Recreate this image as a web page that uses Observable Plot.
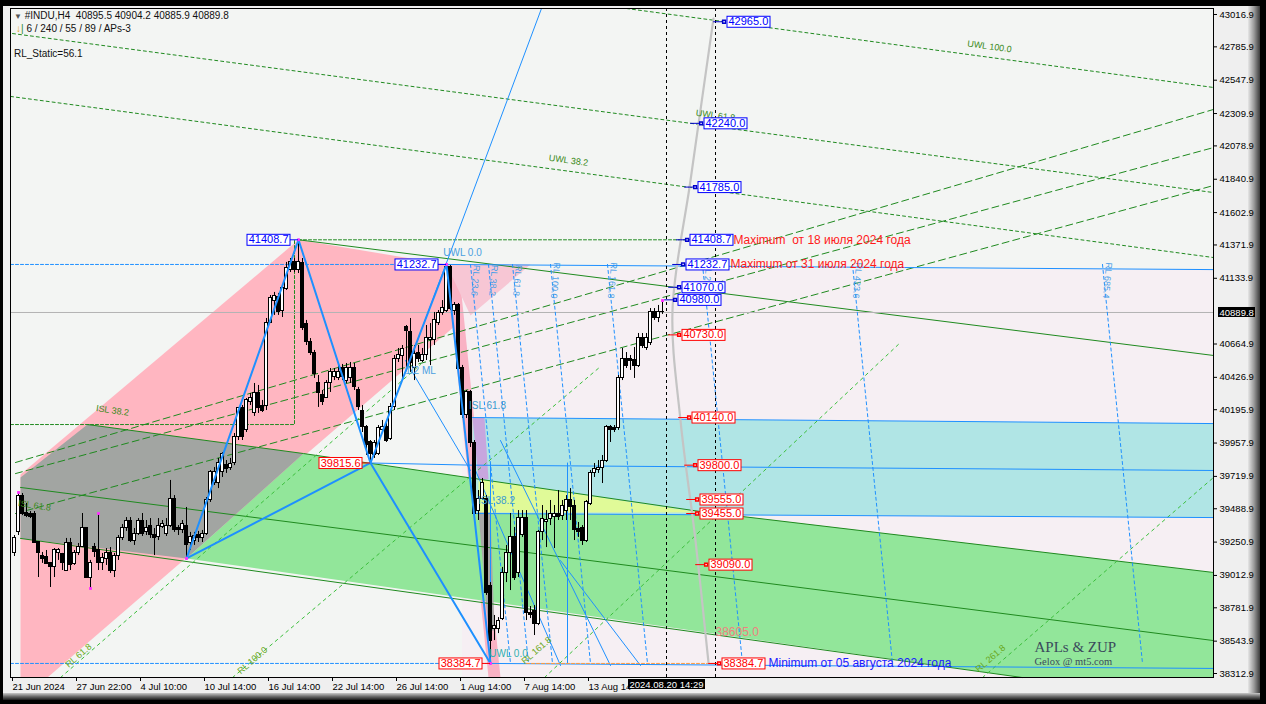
<!DOCTYPE html>
<html><head><meta charset="utf-8">
<script src="https://cdn.jsdelivr.net/npm/d3@7"></script>
<script src="https://cdn.jsdelivr.net/npm/@observablehq/plot@0.6"></script>
<style>
html,body{margin:0;padding:0;background:#000;}
#wrap{position:relative;width:1266px;height:704px;overflow:hidden;background:#000;}
#win{position:absolute;left:3px;top:6px;width:1247px;height:688px;background:#efefef;}
#bevR{position:absolute;left:1248px;top:6px;width:12px;height:692px;background:linear-gradient(to right,#e6e6e6,#9a9a9a,#3a3a3a);}
#bevB{position:absolute;left:3px;top:693px;width:1257px;height:7px;background:linear-gradient(to bottom,#c8c8c8,#6a6a6a,#1a1a1a);}
#chart{position:absolute;left:0;top:0;}
.hdr{position:absolute;font-family:'Liberation Sans',Arial,sans-serif;font-size:10px;color:#111;white-space:pre;}
</style></head>
<body><div id="wrap"><div id="win"></div><div id="bevR"></div><div id="bevB"></div><div id="chart"></div>
<div class="hdr" style="left:14px;top:10px;"><span style="color:#555;font-size:8px">▼</span> #INDU,H4  40895.5 40904.2 40885.9 40889.8</div>
<div class="hdr" style="left:16px;top:23px;"><span style="color:#e0a020">↓</span><span style="color:#2a8a2a">|</span> 6 / 240 / 55 / 89 / APs-3</div>
<div class="hdr" style="left:14px;top:48px;">RL_Static=56.1</div>
</div>
<script>
// ---------- candle data (H4 bars, index 0 = 21 Jun 2024) ----------
const open = [
39170,39320,39583,39462,39455,39455,39255,39155,39141,39099,
39070,39170,39163,39048,39241,39091,39170,39219,39348,38998,
39219,39191,39099,39127,39170,39048,39155,39277,39348,39405,
39262,39312,39405,39320,39369,39298,39284,39362,39312,39369,
39562,39348,39334,39369,39248,39262,39298,39277,39312,39548,
39676,39676,39748,39798,39783,39812,39998,40205,40048,40248,
40169,40312,40219,40219,40818,40975,40997,40904,41061,41190,
41247,41190,41240,40811,40676,40604,40383,40298,40283,40383,
40426,40419,40497,40404,40419,40497,40333,40190,40069,39962,
39876,39883,40048,40069,39990,40212,40561,40576,40783,40747,
40497,40604,40547,40583,40690,40690,40818,40883,40904,41211,
40904,40940,40497,40155,40319,39955,39476,39562,39562,38941,
38634,38634,38705,39027,39170,39284,39027,39298,39426,38748,
38762,38669,39320,39391,39419,39433,39448,39440,39476,39548,
39512,39341,39348,39262,39526,39741,39762,39783,39833,40069,
40062,40062,40419,40561,40561,40554,40511,40711,40633,40669,
40890,40854,40890];
const high = [
39298,39605,39598,39527,39469,39469,39255,39177,39191,39099,
39205,39205,39170,39277,39277,39191,39241,39455,39355,39120,
39241,39455,39170,39205,39212,39170,39298,39376,39426,39426,
39348,39419,39455,39405,39419,39348,39419,39405,39419,39691,
39583,39369,39405,39498,39320,39320,39327,39334,39569,39762,
39783,39848,39890,39833,39848,40026,40212,40226,40276,40312,
40383,40369,40262,40847,41011,41033,41026,41082,41247,41275,
41275,41408.7,41275,40833,40704,40619,40440,40333,40404,40490,
40490,40512,40519,40526,40533,40526,40355,40226,40083,39976,
39976,40083,40119,40119,40240,40583,40633,40654,40797,40847,
40654,40654,40633,40797,40811,40890,40904,40975,41232.7,41225,
40961,40954,40512,40333,40333,39976,39619,39705,39583,38962,
38727,38712,39070,39227,39455,39355,39476,39476,39476,38791,
38798,39334,39512,39476,39548,39512,39619,39548,39583,39633,
39548,39391,39369,39548,39762,39812,39833,39869,40083,40083,
40083,40440,40633,40604,40583,40640,40740,40740,40740,40918,
40918,40940,40975];
const low = [
39148,39298,39440,39426,39419,39241,38998,39099,39091,38927,
38998,39120,39048,39048,39048,39084,39155,39212,38991,38920,
39141,39048,39048,39084,39027,38998,39120,39262,39327,39248,
39227,39298,39291,39298,39277,39155,39262,39348,39291,39355,
39320,39298,39312,39134,39191,39227,39248,39248,39298,39534,
39655,39633,39712,39741,39762,39797,39976,39976,40033,40226,
40148,40169,40176,40190,40811,40869,40869,40854,41047,41175,
41175,41168,40761,40654,40583,40419,40212,40226,40283,40319,
40404,40404,40404,40383,40383,40333,40190,40033,39869,39815.6,
39848,39869,40033,39962,39976,40190,40533,40404,40476,40462,
40404,40533,40533,40547,40511,40654,40797,40869,40890,40904,
40869,40476,40133,40133,39926,39440,39405,39548,38870,38384.7,
38548,38598,38691,38962,38905,38977,38998,39284,38691,38705,
38584,38655,39262,39212,39369,39205,39405,39405,39405,39405,
39262,39284,39227,39248,39512,39712,39741,39669,39819,39962,
40033,40048,40404,40490,40476,40419,40497,40633,40619,40654,
40833,40818,40876];
const close = [
39277,39583,39455,39440,39433,39248,39170,39127,39091,39070,
39191,39191,39099,39241,39084,39170,39219,39348,38998,39105,
39177,39099,39134,39170,39048,39155,39277,39348,39405,39262,
39312,39405,39312,39348,39298,39277,39369,39383,39369,39562,
39334,39334,39383,39227,39284,39291,39277,39312,39548,39748,
39748,39819,39883,39776,39805,39998,40205,39998,40262,40276,
40312,40205,40190,40818,40990,41004,40890,41068,41204,41247,
41190,41247,40776,40676,40604,40454,40312,40248,40383,40462,
40462,40462,40426,40497,40497,40355,40212,40069,39941,39883,
39955,40062,40069,39976,40212,40561,40583,40626,40761,40526,
40597,40561,40583,40711,40711,40833,40883,40925,41218,40918,
40940,40490,40155,40319,39955,39455,39562,39676,38884,38548,
38655,38691,39027,39170,39284,38998,39426,39426,38748,38734,
38669,39320,39419,39412,39455,39455,39433,39512,39548,39498,
39334,39320,39262,39534,39741,39776,39783,39833,40069,40048,
40048,40419,40561,40511,40547,40511,40711,40654,40711,40890,
40854,40890,40889.8];
const lastPrice = 40889.8;

// ---------- axis ticks ----------
const yTicks = [43016.9,42785.9,42547.9,42309.9,42078.9,41840.9,41602.9,41371.9,41133.9,40664.9,40426.9,40195.9,39957.9,39719.9,39488.9,39250.9,39012.9,38781.9,38543.9,38312.9];
const xTicks = [-1,15,31,47,63,79,95,111,127,143];
const xLabels = ["21 Jun 2024","27 Jun 22:00","4 Jul 10:00","10 Jul 14:00","16 Jul 14:00","22 Jul 14:00","26 Jul 14:00","1 Aug 14:00","7 Aug 14:00","13 Aug 14"];
const cursorBar = 163, cursorLabel = "2024.08.20 14:29";

// ---------- wave pivots (bar, price) ----------
const zigzag = [[43,39134],[71,41408.7],[89,39815.6],[108,41232.7],[119,38384.7]];
const pivotMarks = [[1,39605],[19,38920],[21,39455],[43,39134],[71,41408.7],[108,41232.7],[119,38384.7],[162,40975]];

// ---------- zones (bar, price) ----------
const pinkChannel = [[1.5,39733],[71,41408.7],[108,41232.7],[110.25,40797],[8.25,38284],[1.5,38284]];
const grayBand = [[1.5,39712],[18.25,40090],[72.25,39883],[43,39134],[1.5,39277]];
const greenBand = [[72.25,39883],[171.5,39469],[299.75,39034],[299.75,38284],[252,38284],[43,39134]];
const cyanBand = [[114.5,40140],[299.75,40097],[299.75,39426],[114.5,39455]];
const yellowBand = [[116,39701],[171.5,39462],[116,39462]];
const pinkDrop = [[108,41232.7],[111,41232.7],[121.5,38284],[118.5,38284]];
const pinkFan = [[108,41232.7],[129,41232.7],[114,40868]];
const violetPatch = [[114.5,40140],[117.5,40140],[118.5,39700],[116,39700]];
const grayPatch = [[116,39462],[119,39462],[120,38620],[118.5,38620]];
const tintZone = [{x1:112,x2:299.75,y1:38284,y2:41196}];

// ---------- lines ----------
const greenSolid = [
  [[71,41408.7],[299.75,40583]],
  [[18.25,40090],[72.25,39883],[171.5,39469],[299.75,39034]],
  [[1.5,39641],[299.75,38548]],
  [[1.5,39277],[252,38284]]];
const uwlLines = [
  [[153,43059.7],[299.75,42496]],
  [[-0.5,42881],[299.75,41746]],
  [[-1,42432],[299.75,41282]]];
const fanLines = [
  [[0.25,39819],[299.75,42339]],
  [[0.25,39740],[299.75,42067]],
  [[0.25,39455],[299.75,41796]]];
const rlChannel = [
  [[11.5,38284],[101.5,40518]],
  [[54.5,38284],[146.5,40504]],
  [[132.5,38284],[221.5,40676]],
  [[242,38284],[299.75,39712]]];
const islBox = [[-1,40090],[70,40090],[70,41408.7]];
const topDash = [[71,41408.7],[169,41408.7]];
const acLine = [[43,39134],[89,39815.6]];
const ceLine = [[89,39815.6],[119,38384.7]];
const mlLine = [[97.75,40461],[131.75,43059.7]];
const blueLevels = [
  [[108,41232.7],[299.75,41196]],
  [[114.5,40140],[299.75,40097]],
  [[89,39815.6],[114.5,39800],[299.75,39762]],
  [[114.5,39455],[299.75,39426]],
  [[119,38384.7],[299.75,38349]]];
const blueDashed = [[[-1,41232.7],[108,41232.7]],[[-1,38384.7],[119,38384.7]]];
const blueVert = [[[119,39815.6],[119,38384.7]],[[138.25,39815.6],[138.25,38384.7]]];
const blueThin = [
  [[97.75,40547],[114,39762]],
  [[115.25,39762],[136.5,38370]],
  [[121.5,39976],[149,38370]],
  [[136.5,39119],[156.5,38370]]];
const rlTimeTop = [114,118.5,124.5,134,148.25,172,209.5,272];
const rlTimeNames = ["RL 23.6","RL 38.2","RL 61.8","RL 100.0","RL 161.8","RL 261.8","RL 423.6","RL 685.4"];
const grayCurve = [[174.75,42988],[169,41832],[164.5,40904],[166.5,40119],[170.25,39262],[173.5,38391]];
const cursorBars = [163,175.25];
const orangeDash = [[128,38384.7],[175,38384.7]];

// ---------- labels ----------
const leftBlueVals = [41408.7,41232.7], leftBlueBars = [71,108];
const leftRedVals = [39815.6,38384.7], leftRedBars = [89,119];
const rightBlueVals = [42965.0,42240.0,41785.0,41408.7,41232.7,41070.0,40980.0];
const rightBlueBars = [178,172.25,170.75,168.75,167.75,166.75,165.75];
const rightRedVals = [40730.0,40140.0,39800.0,39555.0,39455.0,39090.0,38384.7];
const rightRedBars = [166.75,169.25,170.75,171.25,171.25,173.5,176.75];
const notes = [
  {b:179.75,p:41408.7,t:"Maximum  от 18 июля 2024 года",c:"#ff1a1a"},
  {b:179,p:41232.7,t:"Maximum от 31 июля 2024 года",c:"#ff1a1a"},
  {b:188.5,p:38384.7,t:"Minimum от 05 августа 2024 года",c:"#1a1aff"},
  {b:175.25,p:38605,t:"38605.0",c:"#f08080"}];
const greenTexts = [
  {b:243.75,p:42788,t:"UWL 100.0",r:7.5},
  {b:175.25,p:42296,t:"UWL 61.8",r:7.5},
  {b:138.5,p:41975,t:"UWL 38.2",r:7.5},
  {b:24.5,p:40190,t:"ISL 38.2",r:8},
  {b:5,p:39512,t:"ISL 61.8",r:8}];
const rlTexts = [
  {b:16,p:38441,t:"RL 61.8"},{b:59.5,p:38406,t:"RL 100.0"},
  {b:130.5,p:38477,t:"RL 161.8"},{b:244,p:38420,t:"RL 261.8"}];
const blueTexts = [
  {b:101.5,p:40476,t:"1/2 ML",c:"#4a9ee0"},
  {b:118.25,p:40226,t:"ISL 61.8",c:"#3a9ad0"},
  {b:120.5,p:39548,t:"ISL 38.2",c:"#3a9ad0"},
  {b:112,p:41318,t:"UWL 0.0",c:"#4aa0e0"},
  {b:123.5,p:38456,t:"UWL 0.0",c:"#30b0b0"}];

// ---------- build ----------
const candles = open.map((o,i)=>({i,o,h:high[i],l:low[i],c:close[i]}));
const up = candles.filter(d=>d.c>=d.o), dn = candles.filter(d=>d.c<d.o);
const X = d=>d[0], Y = d=>d[1];
const poly = (pts, fill, extra={}) => Plot.line(pts,{x:X,y:Y,fill,stroke:"none",curve:"linear-closed",...extra});
const seg = (pts, stroke, extra={}) => Plot.line(pts,{x:X,y:Y,stroke,strokeWidth:1,...extra});
const BLUE="#1e90ff", DG="#1f8a1f", LG="#3cbf3c";
const BOXB="#0000fe", BOXR="#fe0000", BOXK="#fefefe";
const lm = new Map(xTicks.map((t,i)=>[t,xLabels[i]]));

const marks = [
  Plot.frame({fill:"#f3f5f3"}),
  Plot.rect(tintZone,{x1:"x1",x2:"x2",y1:"y1",y2:"y2",fill:"#f6eff3"}),
  poly(pinkChannel,"#ffb6c1"),
  poly(pinkDrop,"#f9b2c4"),
  poly(pinkFan,"#f7c6d4"),
  poly(greenBand,"#92e69a"),
  poly(grayBand,"#a2a5a2"),
  poly(cyanBand,"#b0e5e5"),
  poly(yellowBand,"#e0fa98"),
  poly(violetPatch,"#c7a6de"),
  poly(grayPatch,"#a8a8a8"),
  ...greenSolid.map(l=>seg(l,DG)),
  ...uwlLines.map(l=>seg(l,DG,{strokeDasharray:"3,3"})),
  ...fanLines.map(l=>seg(l,DG,{strokeDasharray:"7,4"})),
  ...rlChannel.map(l=>seg(l,LG,{strokeDasharray:"3,4"})),
  seg(islBox,DG,{strokeDasharray:"3,2"}),
  seg(topDash,DG,{strokeDasharray:"3,2"}),
  Plot.ruleY([lastPrice],{stroke:"#b4b4b4"}),
  ...rlTimeTop.map(b=>seg([[b,41232.7],[b+10,38384.7]],BLUE,{strokeDasharray:"3,3"})),
  Plot.text(rlTimeTop,{x:d=>d+1.2,y:41118,text:(d,i)=>rlTimeNames[i],rotate:95,fill:"#4aa0e8",fontSize:9}),
  ...blueLevels.map(l=>seg(l,BLUE)),
  ...blueDashed.map(l=>seg(l,BLUE,{strokeDasharray:"3,2"})),
  ...blueVert.map(l=>seg(l,BLUE)),
  ...blueThin.map(l=>seg(l,BLUE)),
  seg(mlLine,BLUE),
  seg(orangeDash,"#ff9a3c",{strokeDasharray:"3,2"}),
  Plot.ruleX(cursorBars,{stroke:"#000",strokeDasharray:"3,3"}),
  Plot.line(grayCurve,{x:X,y:Y,stroke:"#c4c4c4",strokeWidth:2.2,curve:"catmull-rom"}),
  // candles
  Plot.ruleX(candles,{x:"i",y1:"l",y2:"h",stroke:"#000"}),
  Plot.rect(up,{x1:d=>d.i-0.35,x2:d=>d.i+0.35,y1:"o",y2:"c",fill:"#fff",stroke:"#000",shapeRendering:"crispEdges"}),
  Plot.rect(dn,{x1:d=>d.i-0.35,x2:d=>d.i+0.35,y1:"o",y2:"c",fill:"#000",stroke:"#000",shapeRendering:"crispEdges"}),
  // wave
  seg(acLine,BLUE,{strokeWidth:2}),
  seg(ceLine,BLUE,{strokeWidth:2}),
  Plot.line(zigzag,{x:X,y:Y,stroke:BLUE,strokeWidth:2}),
  Plot.dot(pivotMarks,{x:X,y:Y,symbol:"square",r:1.6,fill:"#ff30ff",stroke:"none"}),
  // texts
  Plot.text(greenTexts,{x:"b",y:"p",text:"t",rotate:"r",fill:"#3a8a1a",fontSize:9}),
  Plot.text(rlTexts,{x:"b",y:"p",text:"t",rotate:-41,fill:"#6aa820",fontSize:9}),
  Plot.text(blueTexts,{x:"b",y:"p",text:"t",fill:d=>d.c,fontSize:10}),
  // left pivot boxes
  Plot.ruleY(leftBlueVals,{y:d=>d,x1:(d,i)=>leftBlueBars[i]-2.5,x2:(d,i)=>leftBlueBars[i],stroke:"#0000ff"}),
  Plot.ruleY(leftRedVals,{y:d=>d,x1:(d,i)=>leftRedBars[i]-2.5,x2:(d,i)=>leftRedBars[i],stroke:"#ff0000"}),
  Plot.text(leftBlueVals,{x:(d,i)=>leftBlueBars[i],y:d=>d,text:d=>d.toFixed(1),textAnchor:"end",dx:-10,fill:BOXB,fontSize:11}),
  Plot.text(leftRedVals,{x:(d,i)=>leftRedBars[i],y:d=>d,text:d=>d.toFixed(1),textAnchor:"end",dx:-10,fill:BOXR,fontSize:11}),
  // right target boxes
  Plot.ruleY(rightBlueVals,{y:d=>d,x1:(d,i)=>rightBlueBars[i]-3.2,x2:(d,i)=>rightBlueBars[i],stroke:"#0000cc"}),
  Plot.dot(rightBlueVals,{x:(d,i)=>rightBlueBars[i]-0.6,y:d=>d,symbol:"square",r:1.6,fill:"#fff",stroke:"#0000cc"}),
  Plot.text(rightBlueVals,{x:(d,i)=>rightBlueBars[i],y:d=>d,text:d=>d.toFixed(1),textAnchor:"start",dx:2,fill:BOXB,fontSize:11}),
  Plot.ruleY(rightRedVals,{y:d=>d,x1:(d,i)=>rightRedBars[i]-3.2,x2:(d,i)=>rightRedBars[i],stroke:"#ff0000"}),
  Plot.dot(rightRedVals,{x:(d,i)=>rightRedBars[i]-0.6,y:d=>d,symbol:"square",r:1.6,fill:"#fff",stroke:"#ff0000"}),
  Plot.text(rightRedVals,{x:(d,i)=>rightRedBars[i],y:d=>d,text:d=>d.toFixed(1),textAnchor:"start",dx:2,fill:BOXR,fontSize:11}),
  Plot.text(notes,{x:"b",y:"p",text:"t",textAnchor:"start",fill:d=>d.c,fontSize:12}),
  Plot.text(["APLs & ZUP"],{x:255,y:38500,text:d=>d,textAnchor:"start",fontFamily:"'Liberation Serif',serif",fontSize:15,fill:"#3a4a5c"}),
  Plot.text(["Gelox @ mt5.com"],{x:255,y:38400,text:d=>d,textAnchor:"start",fontFamily:"'Liberation Serif',serif",fontSize:10.5,fill:"#3a4a5c"}),
  // axes
  Plot.axisY(yTicks,{anchor:"right",tickSize:3,tickPadding:3,tickFormat:d=>d.toFixed(1)}),
  Plot.axisX(xTicks,{anchor:"bottom",tickSize:4,tickPadding:2,textAnchor:"start",dx:2,tickFormat:d=>lm.get(d)}),
  Plot.text([lastPrice],{frameAnchor:"right",y:d=>d,text:d=>d.toFixed(1),textAnchor:"start",dx:6,fill:BOXK}),
  Plot.text([cursorBar],{x:d=>d,frameAnchor:"bottom",dy:10,text:()=>cursorLabel,fill:BOXK}),
  Plot.frame({stroke:"#000"})
];

const svg = Plot.plot({
  width:1266, height:704,
  marginLeft:10, marginRight:53, marginTop:8, marginBottom:27,
  x:{domain:[-1,299.75]},
  y:{domain:[38284.4,43059.7]},
  style:{fontFamily:"'Liberation Sans',Arial,sans-serif",fontSize:"9.5px",background:"transparent",overflow:"visible",color:"#000"},
  marks
});
document.getElementById("chart").appendChild(svg);

const ns="http://www.w3.org/2000/svg";
function boxify(color, fill, stroke){
  const texts = [];
  svg.querySelectorAll("text").forEach(t=>{
    let el=t, f=null;
    while(el && el!==svg){ const a=el.getAttribute && el.getAttribute("fill"); if(a){f=a;break;} el=el.parentNode; }
    if(f && f.toLowerCase()===color) texts.push(t);
  });
  texts.forEach(t=>{
    const b=t.getBBox();
    const r=document.createElementNS(ns,"rect");
    r.setAttribute("x",Math.round(b.x-2)+0.5);
    r.setAttribute("y",Math.round(b.y)+0.5);
    r.setAttribute("width",Math.round(b.width+3));
    r.setAttribute("height",Math.round(b.height-1));
    r.setAttribute("fill",fill);
    r.setAttribute("stroke",stroke);
    const tr=t.getAttribute("transform"); if(tr) r.setAttribute("transform",tr);
    t.parentNode.insertBefore(r,t);
  });
}
boxify(BOXB,"#fff","#0000ff");
boxify(BOXR,"#fff","#ff0000");
boxify(BOXK,"#000","none");
</script></body></html>
